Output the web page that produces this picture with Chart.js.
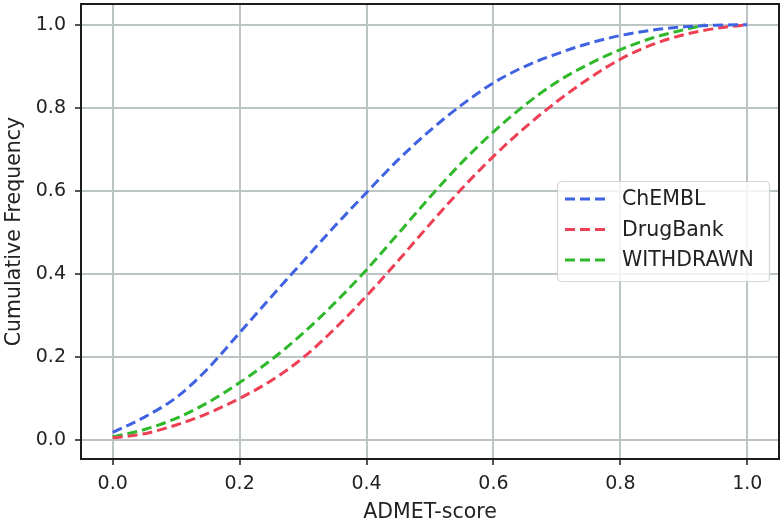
<!DOCTYPE html>
<html>
<head>
<meta charset="utf-8">
<script src="https://cdn.jsdelivr.net/npm/chart.js@4/dist/chart.umd.min.js"></script>
<style>
  html, body { margin: 0; padding: 0; background: #fff; }
  #wrap { width: 784px; height: 522px; position: relative; }
</style>
</head>
<body>
<div id="wrap"><canvas id="c" width="784" height="522"></canvas></div>
<script>
const xValues = [0, 0.05, 0.1, 0.15, 0.2, 0.25, 0.3, 0.35, 0.4, 0.45, 0.5, 0.55, 0.6, 0.65, 0.7, 0.75, 0.8, 0.85, 0.9, 0.95, 1.0];
const chemblY = [0.018, 0.055, 0.102, 0.172, 0.258, 0.345, 0.43, 0.515, 0.596, 0.675, 0.745, 0.807, 0.86, 0.9, 0.93, 0.955, 0.974, 0.987, 0.995, 0.999, 1.0];
const drugbankY = [0.005, 0.015, 0.036, 0.064, 0.10, 0.143, 0.198, 0.268, 0.347, 0.432, 0.52, 0.605, 0.683, 0.753, 0.815, 0.87, 0.917, 0.952, 0.976, 0.991, 1.0];
const withdrawnX = [0, 0.05, 0.1, 0.15, 0.2, 0.25, 0.3, 0.35, 0.4, 0.45, 0.5, 0.55, 0.6, 0.65, 0.7, 0.75, 0.8, 0.85, 0.9, 0.934];
const withdrawnY = [0.007, 0.025, 0.052, 0.09, 0.138, 0.193, 0.257, 0.33, 0.41, 0.497, 0.585, 0.668, 0.742, 0.807, 0.862, 0.905, 0.94, 0.968, 0.988, 1.0];
const seriesLabels = ['ChEMBL', 'DrugBank', 'WITHDRAWN'];
const xTicks = [0, 0.2, 0.4, 0.6, 0.8, 1.0];
const yTicks = [0, 0.2, 0.4, 0.6, 0.8, 1.0];

const colors = ['#3f62e3', '#ee4055', '#2fb82a'];
const toPts = (xs, ys) => xs.map((x, i) => ({ x: x, y: ys[i] }));
const FONT = 'DejaVu Sans';
const TXT = '#222222';
const GRID = '#bcc5c5';

const framePlugin = {
  id: 'frame',
  afterDatasetsDraw(chart) {
    const { ctx } = chart;
    const ds = chart.data.datasets;
    const lx = 557, ly = 181, lw = 212, lh = 100;
    ctx.save();
    ctx.beginPath();
    if (ctx.roundRect) ctx.roundRect(lx + 0.5, ly + 0.5, lw, lh, 4); else ctx.rect(lx + 0.5, ly + 0.5, lw, lh);
    ctx.fillStyle = 'rgba(255,255,255,0.8)';
    ctx.fill();
    ctx.strokeStyle = 'rgba(204,204,204,0.8)';
    ctx.lineWidth = 1.2;
    ctx.stroke();
    ds.forEach((d, i) => {
      const y = 199 + i * 30.5;
      ctx.beginPath();
      ctx.setLineDash([10, 5]);
      ctx.lineWidth = 3;
      ctx.strokeStyle = d.borderColor;
      ctx.moveTo(565, y);
      ctx.lineTo(609, y);
      ctx.stroke();
      ctx.setLineDash([]);
      ctx.fillStyle = TXT;
      ctx.font = '20.5px "' + FONT + '"';
      ctx.textBaseline = 'middle';
      ctx.textAlign = 'left';
      ctx.fillText(d.label, 622, y + 1);
    });
    ctx.restore();
  },
  afterDraw(chart) {
    const { ctx, chartArea: a } = chart;
    ctx.save();
    ctx.strokeStyle = '#1c1c1c';
    ctx.lineWidth = 2;
    ctx.strokeRect(a.left, a.top, a.right - a.left, a.bottom - a.top);
    ctx.restore();
  }
};

new Chart(document.getElementById('c'), {
  type: 'line',
  data: {
    datasets: [
      { label: seriesLabels[0], data: toPts(xValues, chemblY), borderColor: colors[0] },
      { label: seriesLabels[1], data: toPts(xValues, drugbankY), borderColor: colors[1] },
      { label: seriesLabels[2], data: toPts(withdrawnX, withdrawnY), borderColor: colors[2] }
    ].map(d => Object.assign(d, {
      borderWidth: 3, borderDash: [10, 5], pointRadius: 0, fill: false,
      cubicInterpolationMode: 'monotone', backgroundColor: d.borderColor
    }))
  },
  options: {
    responsive: false,
    animation: false,
    devicePixelRatio: 1,
    layout: { padding: { left: 0, top: 4, right: 5, bottom: 0 } },
    plugins: { legend: { display: false }, tooltip: { enabled: false } },
    scales: {
      x: {
        type: 'linear', min: -0.05, max: 1.05,
        afterBuildTicks: s => { s.ticks = xTicks.map(v => ({ value: v })); },
        afterFit: s => { s.height = 63; s.paddingLeft = 0; s.paddingRight = 0; },
        grid: { color: GRID, lineWidth: 2, tickLength: 6, tickColor: '#1c1c1c', tickWidth: 1.5 },
        border: { display: false },
        ticks: { color: TXT, font: { family: FONT, size: 19 }, padding: 8, callback: v => v.toFixed(1), maxRotation: 0 },
        title: { display: true, text: 'ADMET-score', color: TXT, font: { family: FONT, size: 20.5 }, padding: { top: 0, bottom: -3 } }
      },
      y: {
        type: 'linear', min: -0.046, max: 1.05,
        afterBuildTicks: s => { s.ticks = yTicks.map(v => ({ value: v })); },
        afterFit: s => { s.width = 81; s.paddingTop = 0; s.paddingBottom = 0; },
        grid: { color: GRID, lineWidth: 2, tickLength: 6, tickColor: '#1c1c1c', tickWidth: 1.5 },
        border: { display: false },
        ticks: { color: TXT, font: { family: FONT, size: 19 }, padding: 9, callback: v => v.toFixed(1) },
        title: { display: true, text: 'Cumulative Frequency', color: TXT, font: { family: FONT, size: 20.5 }, padding: { top: 2, bottom: 0 } }
      }
    }
  },
  plugins: [framePlugin]
});
</script>
</body>
</html>
